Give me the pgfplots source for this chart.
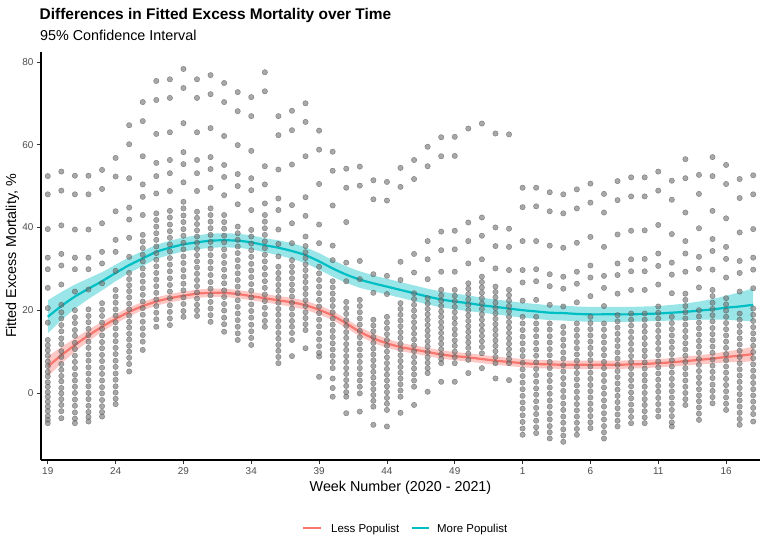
\documentclass[border=0pt]{standalone}
\usepackage{pgfplots}
\pgfplotsset{compat=1.18}
\usepackage{pgfplotstable}
\usepgfplotslibrary{fillbetween}
\usepackage{fontspec}
\setmainfont{Liberation Sans}
\definecolor{lessc}{HTML}{F8766D}
\definecolor{morec}{HTML}{00BFC4}
\definecolor{tickc}{HTML}{4D4D4D}

\pgfplotstableread{
x m lo hi
19 18.4 14.4 22.4
20 21.0 17.6 24.4
21 23.3 20.4 26.2
22 25.2 22.7 27.7
23 27.0 24.8 29.2
24 29.0 27.0 31.0
25 30.9 29.0 32.8
26 32.5 30.7 34.3
27 34.1 32.4 35.8
28 35.1 33.4 36.8
29 35.9 34.2 37.6
30 36.4 34.7 38.1
31 36.8 35.1 38.5
32 36.9 35.2 38.6
33 36.8 35.1 38.5
34 36.4 34.7 38.1
35 35.7 34.0 37.4
36 35.1 33.3 36.9
37 34.3 32.4 36.2
38 33.3 31.4 35.2
39 31.8 29.8 33.8
40 30.1 28.1 32.1
41 28.6 26.6 30.6
42 27.4 25.4 29.4
43 26.5 24.6 28.4
44 25.7 23.8 27.6
45 24.9 23.0 26.8
46 24.1 22.2 26.0
47 23.3 21.4 25.2
48 22.6 20.7 24.5
49 22.1 20.2 24.0
50 21.7 19.8 23.6
51 21.2 19.4 23.0
52 20.8 19.0 22.6
53 20.4 18.6 22.2
54 20.0 18.2 21.8
55 19.7 17.9 21.5
56 19.4 17.6 21.2
57 19.3 17.5 21.1
58 19.1 17.3 20.9
59 19.0 17.2 20.8
60 19.0 17.2 20.8
61 19.0 17.2 20.8
62 19.0 17.2 20.8
63 19.1 17.3 20.9
64 19.2 17.4 21.0
65 19.4 17.5 21.3
66 19.6 17.6 21.6
67 19.9 17.7 22.1
68 20.2 17.7 22.7
69 20.6 17.7 23.5
70 20.9 17.5 24.3
71 21.3 17.3 25.3
}\moreT

\pgfplotstableread{
x m lo hi
19 6.4 4.0 8.8
20 9.1 7.1 11.1
21 11.6 10.0 13.2
22 13.9 12.5 15.3
23 16.0 14.8 17.2
24 17.9 16.8 19.0
25 19.6 18.5 20.7
26 21.0 20.0 22.0
27 22.1 21.1 23.1
28 22.9 21.9 23.9
29 23.5 22.5 24.5
30 24.0 23.0 25.0
31 24.2 23.2 25.2
32 24.2 23.2 25.2
33 23.9 22.9 24.9
34 23.4 22.4 24.4
35 22.9 21.9 23.9
36 22.4 21.4 23.4
37 21.9 20.8 23.0
38 21.2 20.1 22.3
39 20.1 19.0 21.2
40 18.7 17.6 19.8
41 16.8 15.7 17.9
42 14.8 13.7 15.9
43 13.2 12.1 14.3
44 12.0 10.9 13.1
45 11.1 10.1 12.1
46 10.5 9.5 11.5
47 9.9 8.9 10.9
48 9.3 8.3 10.3
49 8.9 7.9 9.9
50 8.6 7.6 9.6
51 8.2 7.2 9.2
52 7.8 6.8 8.8
53 7.5 6.5 8.5
54 7.2 6.2 8.2
55 7.0 6.0 8.0
56 6.9 5.9 7.9
57 6.8 5.8 7.8
58 6.8 5.8 7.8
59 6.8 5.8 7.8
60 6.8 5.8 7.8
61 6.8 5.8 7.8
62 6.9 5.9 7.9
63 7.0 6.0 8.0
64 7.2 6.2 8.2
65 7.4 6.4 8.4
66 7.7 6.6 8.8
67 8.0 6.9 9.1
68 8.3 7.1 9.5
69 8.7 7.4 10.0
70 9.0 7.5 10.5
71 9.4 7.6 11.2
}\lessT

\begin{document}
\begin{tikzpicture}
\begin{axis}[at={(0,0)}, anchor=south west, scale only axis,
  width=719bp, height=408bp,
  xmin=18.5, xmax=71.5, ymin=-16.2, ymax=82.4,
  axis x line*=bottom, axis y line*=left,
  axis line style={line width=1.1bp, black},
  xtick={19,24,29,34,39,44,49,54,59,64,69},
  xticklabels={19,24,29,34,39,44,49,1,6,11,16},
  ytick={0,20,40,60,80},
  tick align=outside, major tick length=4bp,
  tick style={line width=0.8bp, color=black!80},
  ticklabel style={font=\fontsize{10}{12}\selectfont, color=tickc},
  /pgf/number format/assume math mode=true,
]
\addplot[only marks, mark=*, mark size=2.7bp,
  mark options={fill=black!55, draw=black!70, line width=0.4bp, opacity=0.62}] coordinates {
(19,52.4)(19,48.0)(19,39.6)(19,32.7)(19,29.9)(19,25.4)(19,20.5)(19,17.0)(19,12.8)(19,11.5)(19,10.3)(19,9.0)(19,7.6)(19,6.5)(19,5.1)(19,4.0)(19,2.6)(19,1.5)(19,0.2)(19,-0.9)(19,-2.1)(19,-3.3)(19,-4.4)(19,-5.6)(19,-6.5)(19,-7.3)
(20,53.5)(20,48.9)(20,40.5)(20,33.6)(20,30.8)(20,26.2)(20,21.3)(20,19.5)(20,18.0)(20,16.4)(20,14.9)(20,13.2)(20,11.8)(20,10.1)(20,8.7)(20,7.0)(20,5.6)(20,4.1)(20,2.8)(20,1.2)(20,-0.1)(20,-1.5)(20,-2.9)(20,-4.4)(20,-6.1)
(21,52.5)(21,48.0)(21,39.5)(21,32.7)(21,29.9)(21,24.5)(21,20.0)(21,18.3)(21,16.9)(21,15.2)(21,13.8)(21,12.1)(21,10.6)(21,9.0)(21,7.5)(21,6.0)(21,4.4)(21,3.0)(21,1.5)(21,0.0)(21,-1.6)(21,-3.1)(21,-4.7)(21,-6.2)(21,-7.3)
(22,52.5)(22,48.0)(22,39.5)(22,32.7)(22,29.9)(22,25.0)(22,20.2)(22,18.6)(22,17.1)(22,15.5)(22,14.0)(22,12.4)(22,10.9)(22,9.3)(22,7.8)(22,6.2)(22,4.7)(22,3.1)(22,1.6)(22,0.0)(22,-1.5)(22,-3.1)(22,-4.6)(22,-5.8)(22,-6.9)
(23,53.9)(23,49.3)(23,41.0)(23,34.1)(23,31.3)(23,26.5)(23,21.7)(23,20.1)(23,18.6)(23,17.0)(23,15.5)(23,13.9)(23,12.3)(23,10.8)(23,9.2)(23,7.7)(23,6.1)(23,4.6)(23,3.0)(23,1.4)(23,-0.1)(23,-1.7)(23,-3.2)(23,-4.6)(23,-5.7)
(24,56.8)(24,52.3)(24,43.9)(24,37.0)(24,34.1)(24,29.5)(24,24.9)(24,23.3)(24,21.8)(24,20.2)(24,18.7)(24,17.1)(24,15.6)(24,14.0)(24,12.5)(24,10.9)(24,9.4)(24,7.8)(24,6.3)(24,4.7)(24,3.2)(24,1.6)(24,0.1)(24,-1.4)(24,-2.7)
(25,64.7)(25,60.1)(25,51.9)(25,44.8)(25,41.9)(25,37.5)(25,32.9)(25,29.0)(25,27.5)(25,26.0)(25,24.6)(25,23.1)(25,21.6)(25,20.2)(25,18.7)(25,17.2)(25,15.8)(25,14.3)(25,12.9)(25,11.4)(25,10.0)(25,8.5)(25,7.0)(25,5.2)
(26,70.3)(26,65.7)(26,57.2)(26,50.4)(26,47.4)(26,43.0)(26,38.2)(26,36.6)(26,35.0)(26,33.4)(26,31.8)(26,30.1)(26,28.5)(26,26.9)(26,25.3)(26,23.7)(26,22.1)(26,20.5)(26,18.9)(26,17.2)(26,15.6)(26,14.0)(26,12.4)(26,10.4)
(27,75.4)(27,70.8)(27,62.6)(27,55.6)(27,52.4)(27,48.2)(27,43.4)(27,41.8)(27,40.2)(27,38.6)(27,37.0)(27,35.4)(27,33.8)(27,32.2)(27,30.6)(27,29.0)(27,27.4)(27,25.8)(27,24.2)(27,22.6)(27,21.0)(27,19.4)(27,17.8)(27,16.0)
(28,75.8)(28,71.3)(28,63.0)(28,56.3)(28,53.1)(28,48.8)(28,44.0)(28,42.4)(28,40.7)(28,39.1)(28,37.5)(28,35.9)(28,34.2)(28,32.6)(28,31.0)(28,29.4)(28,27.7)(28,26.1)(28,24.5)(28,22.9)(28,21.2)(28,19.6)(28,18.0)(28,16.4)
(29,78.3)(29,73.7)(29,65.2)(29,58.2)(29,55.3)(29,50.9)(29,46.2)(29,44.6)(29,42.9)(29,41.3)(29,39.6)(29,38.0)(29,36.3)(29,34.7)(29,33.0)(29,31.4)(29,29.7)(29,28.1)(29,26.4)(29,24.8)(29,23.1)(29,21.5)(29,19.8)(29,18.4)
(30,75.8)(30,71.3)(30,63.0)(30,56.3)(30,53.1)(30,48.8)(30,43.8)(30,42.3)(30,40.8)(30,39.3)(30,37.8)(30,36.3)(30,34.8)(30,33.3)(30,31.8)(30,30.3)(30,28.8)(30,27.3)(30,25.8)(30,24.3)(30,22.8)(30,21.3)(30,20.0)(30,18.6)
(31,76.8)(31,72.2)(31,64.0)(31,57.0)(31,54.1)(31,49.6)(31,44.6)(31,43.0)(31,41.4)(31,39.8)(31,38.2)(31,36.5)(31,34.9)(31,33.3)(31,31.7)(31,30.1)(31,28.5)(31,26.8)(31,25.2)(31,23.6)(31,22.0)(31,20.4)(31,18.8)(31,17.2)
(32,74.9)(32,70.3)(32,62.1)(32,55.1)(32,52.2)(32,47.8)(32,43.0)(32,41.3)(32,39.7)(32,38.0)(32,36.4)(32,34.7)(32,33.1)(32,31.4)(32,29.8)(32,28.1)(32,26.5)(32,24.8)(32,23.2)(32,21.5)(32,19.9)(32,18.2)(32,16.6)(32,14.8)
(33,72.7)(33,68.1)(33,59.9)(33,52.9)(33,50.0)(33,45.6)(33,40.2)(33,38.6)(33,37.0)(33,35.4)(33,33.8)(33,32.1)(33,30.5)(33,28.9)(33,27.3)(33,25.7)(33,24.1)(33,22.4)(33,20.8)(33,19.2)(33,17.6)(33,16.0)(33,14.4)(33,12.8)
(34,71.5)(34,66.9)(34,58.5)(34,51.9)(34,49.0)(34,44.2)(34,39.4)(34,37.8)(34,36.1)(34,34.5)(34,32.9)(34,31.2)(34,29.6)(34,28.0)(34,26.3)(34,24.7)(34,23.1)(34,21.4)(34,19.8)(34,18.2)(34,16.5)(34,14.9)(34,13.3)(34,11.6)
(35,77.5)(35,72.9)(35,54.8)(35,50.4)(35,45.8)(35,43.0)(35,41.4)(35,39.8)(35,38.2)(35,36.6)(35,35.0)(35,33.4)(35,31.8)(35,30.2)(35,28.6)(35,27.0)(35,25.4)(35,23.8)(35,22.2)(35,20.6)(35,19.0)(35,17.4)(35,16.0)
(36,66.9)(36,62.3)(36,54.0)(36,47.0)(36,44.2)(36,39.5)(36,36.0)(36,33.0)(36,30.5)(36,29.0)(36,27.6)(36,26.1)(36,24.7)(36,23.2)(36,21.8)(36,20.3)(36,18.9)(36,17.4)(36,16.0)(36,14.5)(36,13.1)(36,11.6)(36,10.2)(36,8.7)(36,7.2)
(37,68.2)(37,63.5)(37,55.2)(37,45.4)(37,41.0)(37,36.2)(37,32.1)(37,30.6)(37,29.2)(37,27.7)(37,26.2)(37,24.8)(37,23.3)(37,21.8)(37,20.4)(37,18.9)(37,17.4)(37,16.0)(37,14.5)(37,12.8)(37,8.9)
(38,70.0)(38,65.5)(38,57.2)(38,47.3)(38,42.8)(38,37.8)(38,35.5)(38,34.0)(38,32.6)(38,31.1)(38,29.7)(38,28.2)(38,26.8)(38,25.3)(38,23.9)(38,22.4)(38,21.0)(38,19.5)(38,18.1)(38,16.6)(38,15.2)(38,10.8)
(39,63.4)(39,58.8)(39,50.5)(39,40.7)(39,36.2)(39,30.5)(39,28.9)(39,27.3)(39,25.7)(39,24.1)(39,22.5)(39,20.9)(39,19.3)(39,17.7)(39,16.1)(39,14.5)(39,12.9)(39,11.3)(39,9.7)(39,8.8)(39,3.9)
(40,58.3)(40,53.7)(40,45.3)(40,35.6)(40,32.1)(40,27.0)(40,25.5)(40,24.0)(40,22.5)(40,21.0)(40,19.5)(40,18.0)(40,16.5)(40,15.0)(40,13.5)(40,12.0)(40,10.5)(40,9.0)(40,7.5)(40,6.0)(40,3.5)(40,1.2)(40,-0.9)
(41,54.2)(41,49.6)(41,41.3)(41,31.5)(41,27.0)(41,22.0)(41,20.5)(41,19.1)(41,17.6)(41,16.2)(41,14.7)(41,13.3)(41,11.8)(41,10.4)(41,8.9)(41,7.5)(41,6.0)(41,4.6)(41,3.1)(41,1.7)(41,0.2)(41,-0.9)(41,-4.9)
(42,54.7)(42,50.1)(42,31.9)(42,27.5)(42,22.5)(42,21.0)(42,19.5)(42,18.0)(42,16.5)(42,15.0)(42,13.5)(42,12.0)(42,10.5)(42,9.0)(42,7.5)(42,6.0)(42,4.5)(42,3.0)(42,1.5)(42,-0.1)(42,-4.5)
(43,51.4)(43,46.8)(43,28.7)(43,24.2)(43,17.7)(43,16.3)(43,14.9)(43,13.5)(43,12.1)(43,10.7)(43,9.3)(43,7.9)(43,6.5)(43,5.1)(43,3.7)(43,2.3)(43,0.9)(43,-0.5)(43,-1.9)(43,-3.3)(43,-7.7)
(44,51.0)(44,46.5)(44,28.3)(44,23.9)(44,18.4)(44,17.0)(44,15.6)(44,14.2)(44,12.8)(44,11.4)(44,10.0)(44,8.6)(44,7.2)(44,5.8)(44,4.4)(44,3.0)(44,1.6)(44,0.2)(44,-1.2)(44,-2.6)(44,-4.1)(44,-8.1)
(45,54.4)(45,49.8)(45,31.7)(45,27.3)(45,21.7)(45,20.3)(45,18.9)(45,17.5)(45,16.1)(45,14.7)(45,13.3)(45,11.9)(45,10.5)(45,9.1)(45,7.7)(45,6.3)(45,4.9)(45,3.5)(45,2.1)(45,0.6)(45,-0.9)(45,-4.8)
(46,56.3)(46,51.7)(46,33.6)(46,29.1)(46,24.1)(46,22.7)(46,21.3)(46,19.9)(46,18.5)(46,17.1)(46,15.7)(46,14.3)(46,12.9)(46,11.5)(46,10.1)(46,8.7)(46,7.3)(46,5.9)(46,4.5)(46,3.0)(46,1.5)(46,-2.9)
(47,59.5)(47,54.8)(47,36.7)(47,32.3)(47,27.5)(47,22.9)(47,21.6)(47,20.3)(47,19.0)(47,17.7)(47,16.4)(47,15.1)(47,13.8)(47,12.5)(47,11.2)(47,9.9)(47,8.6)(47,7.3)(47,6.0)(47,4.8)(47,0.3)
(48,61.8)(48,57.2)(48,39.0)(48,34.5)(48,29.3)(48,24.9)(48,23.6)(48,22.3)(48,21.0)(48,19.7)(48,18.4)(48,17.1)(48,15.8)(48,14.5)(48,13.2)(48,11.9)(48,10.6)(48,9.3)(48,8.2)(48,7.2)(48,2.7)
(49,61.9)(49,57.3)(49,39.2)(49,34.7)(49,29.3)(49,24.9)(49,23.5)(49,22.2)(49,20.8)(49,19.5)(49,18.1)(49,16.8)(49,15.4)(49,14.1)(49,12.7)(49,11.4)(49,10.0)(49,8.7)(49,7.2)(49,2.7)
(50,63.9)(50,41.2)(50,36.7)(50,31.3)(50,26.5)(50,25.2)(50,23.9)(50,22.6)(50,21.3)(50,20.0)(50,18.7)(50,17.4)(50,16.1)(50,14.8)(50,13.5)(50,12.2)(50,10.9)(50,9.5)(50,8.0)(50,4.8)
(51,65.1)(51,42.4)(51,38.0)(51,32.3)(51,28.1)(51,26.8)(51,25.5)(51,24.2)(51,22.9)(51,21.6)(51,20.3)(51,19.0)(51,17.7)(51,16.4)(51,15.1)(51,13.8)(51,12.5)(51,11.1)(51,9.6)(51,6.0)
(52,62.7)(52,40.0)(52,35.5)(52,30.1)(52,25.7)(52,24.4)(52,23.1)(52,21.8)(52,20.5)(52,19.2)(52,17.9)(52,16.6)(52,15.3)(52,14.0)(52,12.7)(52,11.4)(52,10.1)(52,8.7)(52,7.2)(52,3.5)
(53,62.5)(53,39.7)(53,35.3)(53,29.7)(53,24.9)(53,23.6)(53,22.3)(53,21.0)(53,19.7)(53,18.4)(53,17.1)(53,15.8)(53,14.5)(53,13.2)(53,11.9)(53,10.6)(53,9.3)(53,8.2)(53,7.2)(53,3.1)
(54,49.6)(54,44.9)(54,36.7)(54,29.7)(54,26.7)(54,22.3)(54,18.4)(54,16.8)(54,15.2)(54,13.6)(54,12.0)(54,10.4)(54,8.9)(54,7.3)(54,5.7)(54,4.1)(54,2.5)(54,0.9)(54,-0.7)(54,-2.3)(54,-3.8)(54,-5.4)(54,-7.0)(54,-8.6)(54,-10.1)
(55,49.6)(55,45.1)(55,36.7)(55,29.9)(55,27.0)(55,22.5)(55,18.4)(55,16.8)(55,15.3)(55,13.7)(55,12.1)(55,10.5)(55,9.0)(55,7.4)(55,5.8)(55,4.3)(55,2.7)(55,1.1)(55,-0.4)(55,-2.0)(55,-3.6)(55,-5.1)(55,-6.7)(55,-8.3)(55,-9.7)
(56,48.5)(56,43.9)(56,35.6)(56,28.7)(56,25.8)(56,21.3)(56,16.8)(56,15.3)(56,13.7)(56,12.2)(56,10.6)(56,9.1)(56,7.5)(56,6.0)(56,4.4)(56,2.9)(56,1.3)(56,-0.2)(56,-1.8)(56,-3.3)(56,-4.9)(56,-6.4)(56,-8.0)(56,-9.5)(56,-11.0)
(57,48.0)(57,43.4)(57,35.1)(57,28.1)(57,25.2)(57,20.9)(57,16.0)(57,14.5)(57,12.9)(57,11.4)(57,9.8)(57,8.3)(57,6.7)(57,5.2)(57,3.6)(57,2.1)(57,0.5)(57,-1.0)(57,-2.6)(57,-4.1)(57,-5.7)(57,-7.2)(57,-8.8)(57,-10.3)(57,-11.8)
(58,49.2)(58,44.6)(58,36.3)(58,29.3)(58,26.4)(58,21.9)(58,16.8)(58,15.3)(58,13.8)(58,12.3)(58,10.8)(58,9.3)(58,7.8)(58,6.3)(58,4.8)(58,3.3)(58,1.8)(58,0.3)(58,-1.2)(58,-2.7)(58,-4.2)(58,-5.7)(58,-7.2)(58,-8.7)(58,-10.1)
(59,50.6)(59,46.0)(59,37.7)(59,30.8)(59,27.9)(59,23.4)(59,18.4)(59,16.9)(59,15.4)(59,13.9)(59,12.4)(59,10.9)(59,9.4)(59,7.9)(59,6.4)(59,4.9)(59,3.4)(59,1.9)(59,0.4)(59,-1.1)(59,-2.6)(59,-4.1)(59,-5.6)(59,-7.1)(59,-8.5)
(60,48.1)(60,43.6)(60,35.3)(60,28.3)(60,25.4)(60,21.0)(60,16.8)(60,15.3)(60,13.7)(60,12.2)(60,10.6)(60,9.1)(60,7.5)(60,6.0)(60,4.4)(60,2.9)(60,1.3)(60,-0.2)(60,-1.8)(60,-3.3)(60,-4.9)(60,-6.4)(60,-8.0)(60,-9.5)(60,-11.0)
(61,51.2)(61,46.6)(61,38.3)(61,31.3)(61,28.5)(61,24.0)(61,18.8)(61,17.3)(61,15.8)(61,14.3)(61,12.8)(61,11.3)(61,9.8)(61,8.3)(61,6.8)(61,5.3)(61,3.8)(61,2.3)(61,0.8)(61,-0.7)(61,-2.2)(61,-3.7)(61,-5.2)(61,-6.7)(61,-8.1)
(62,52.1)(62,47.5)(62,39.2)(62,32.3)(62,29.4)(62,24.9)(62,19.2)(62,17.7)(62,16.3)(62,14.8)(62,13.3)(62,11.9)(62,10.4)(62,8.9)(62,7.5)(62,6.0)(62,4.5)(62,3.1)(62,1.6)(62,0.1)(62,-1.3)(62,-2.8)(62,-4.3)(62,-5.8)(62,-7.3)
(63,52.1)(63,47.5)(63,39.3)(63,32.4)(63,29.4)(63,24.9)(63,19.2)(63,17.7)(63,16.2)(63,14.8)(63,13.3)(63,11.8)(63,10.3)(63,8.9)(63,7.4)(63,5.9)(63,4.4)(63,3.0)(63,1.5)(63,0.0)(63,-1.5)(63,-2.9)(63,-4.4)(63,-5.9)(63,-7.3)
(64,53.5)(64,48.9)(64,40.6)(64,33.7)(64,30.7)(64,26.2)(64,20.9)(64,19.4)(64,18.0)(64,16.5)(64,15.0)(64,13.5)(64,12.1)(64,10.6)(64,9.1)(64,7.6)(64,6.2)(64,4.7)(64,3.2)(64,1.7)(64,0.3)(64,-1.2)(64,-2.7)(64,-4.2)(64,-5.7)
(65,51.3)(65,46.7)(65,38.4)(65,31.5)(65,28.6)(65,24.1)(65,18.4)(65,16.9)(65,15.4)(65,13.9)(65,12.4)(65,10.9)(65,9.4)(65,7.9)(65,6.4)(65,4.9)(65,3.4)(65,1.9)(65,0.4)(65,-1.1)(65,-2.6)(65,-4.1)(65,-5.6)(65,-7.1)(65,-8.1)
(66,56.5)(66,51.9)(66,43.6)(66,36.7)(66,33.7)(66,29.3)(66,24.0)(66,22.5)(66,21.0)(66,19.5)(66,18.0)(66,16.5)(66,15.0)(66,13.5)(66,12.0)(66,10.5)(66,9.0)(66,7.5)(66,6.0)(66,4.5)(66,3.0)(66,1.5)(66,0.0)(66,-1.5)(66,-2.9)
(67,52.7)(67,48.1)(67,39.8)(67,32.9)(67,30.0)(67,25.5)(67,20.0)(67,18.5)(67,17.0)(67,15.6)(67,14.1)(67,12.6)(67,11.2)(67,9.7)(67,8.2)(67,6.8)(67,5.3)(67,3.8)(67,2.4)(67,0.9)(67,-0.6)(67,-2.0)(67,-3.5)(67,-5.0)(67,-6.5)
(68,57.0)(68,52.4)(68,44.0)(68,37.2)(68,34.3)(68,29.8)(68,24.9)(68,23.4)(68,21.8)(68,20.3)(68,18.8)(68,17.3)(68,15.7)(68,14.2)(68,12.7)(68,11.2)(68,9.7)(68,8.1)(68,6.6)(68,5.1)(68,3.6)(68,2.0)(68,0.5)(68,-1.0)(68,-2.5)
(69,55.1)(69,50.5)(69,42.2)(69,35.3)(69,32.4)(69,27.9)(69,22.9)(69,21.4)(69,19.9)(69,18.4)(69,16.9)(69,15.4)(69,13.9)(69,12.4)(69,10.9)(69,9.4)(69,7.9)(69,6.4)(69,4.9)(69,3.4)(69,1.9)(69,0.4)(69,-1.1)(69,-2.6)(69,-4.1)
(70,51.7)(70,47.1)(70,38.8)(70,31.9)(70,29.0)(70,24.5)(70,19.2)(70,17.7)(70,16.2)(70,14.7)(70,13.2)(70,11.7)(70,10.2)(70,8.7)(70,7.2)(70,5.7)(70,4.2)(70,2.7)(70,1.2)(70,-0.3)(70,-1.8)(70,-3.3)(70,-4.8)(70,-6.3)(70,-7.7)
(71,52.6)(71,48.0)(71,39.6)(71,32.7)(71,29.8)(71,25.3)(71,20.4)(71,18.9)(71,17.4)(71,15.9)(71,14.4)(71,12.9)(71,11.4)(71,9.9)(71,8.4)(71,6.9)(71,5.4)(71,3.9)(71,2.4)(71,0.9)(71,-0.6)(71,-2.1)(71,-3.6)(71,-5.1)(71,-6.9)
};
\addplot[draw=none, name path=lu, forget plot] table[x=x, y=hi]{\lessT};
\addplot[draw=none, name path=ll, forget plot] table[x=x, y=lo]{\lessT};
\addplot[fill=lessc, fill opacity=0.4, draw=none] fill between[of=lu and ll];
\addplot[lessc, line width=2.2bp, smooth] table[x=x, y=m]{\lessT};
\addplot[draw=none, name path=mu, forget plot] table[x=x, y=hi]{\moreT};
\addplot[draw=none, name path=ml, forget plot] table[x=x, y=lo]{\moreT};
\addplot[fill=morec, fill opacity=0.4, draw=none] fill between[of=mu and ml];
\addplot[morec, line width=2.2bp, smooth] table[x=x, y=m]{\moreT};
\end{axis}
\node[anchor=base west, inner sep=0] at (-1.5bp,440bp) {\fontsize{15.5}{18}\selectfont\bfseries Differences in Fitted Excess Mortality over Time};
\node[anchor=base west, inner sep=0] at (-1bp,419.3bp) {\fontsize{14.4}{17}\selectfont 95\% Confidence Interval};
\node[anchor=base, inner sep=0] at (359.5bp,-31bp) {\fontsize{14.4}{17}\selectfont Week Number (2020 - 2021)};
\node[anchor=base, rotate=90, inner sep=0] at (-25bp,204bp) {\fontsize{14.4}{17}\selectfont Fitted Excess Mortality, \%};
\draw[lessc, line width=2.2bp] (262bp,-68bp) -- (280bp,-68bp);
\node[anchor=base west, inner sep=0] at (290bp,-72bp) {\fontsize{11.5}{14}\selectfont Less Populist};
\draw[morec, line width=2.2bp] (371bp,-68bp) -- (388bp,-68bp);
\node[anchor=base west, inner sep=0] at (396bp,-72bp) {\fontsize{11.5}{14}\selectfont More Populist};
\pgfresetboundingbox
\path[use as bounding box] (-41bp,-79bp) rectangle (724bp,460bp);
\end{tikzpicture}
\end{document}
